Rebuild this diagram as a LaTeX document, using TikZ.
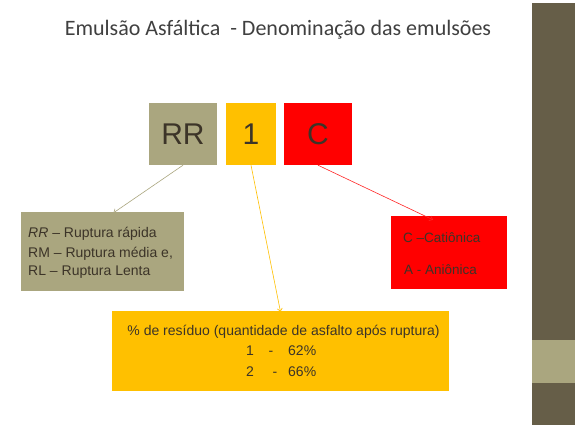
\documentclass[tikz,border=0pt]{standalone}
\usepackage{fontspec}
\setmainfont{Liberation Sans}
\newfontfamily\titlefont{Carlito}
\usetikzlibrary{arrows.meta}
\definecolor{tan}{RGB}{170,166,127}
\definecolor{darkbar}{RGB}{102,94,72}
\definecolor{gold}{RGB}{255,192,0}
\definecolor{txt}{RGB}{60,52,40}
\definecolor{edgegray}{RGB}{222,222,222}
\pgfdeclareradialshading{slidebg}{\pgfpoint{0bp}{0bp}}{color(0bp)=(white); color(36bp)=(white); color(72bp)=(edgegray)}
\tikzset{
  box/.style={draw=none, inner sep=0pt, anchor=center},
  lbl/.style={inner sep=0pt, text=txt, font=\fontsize{14}{16}\selectfont},
  conn/.style={line width=0.6pt, -{Straight Barb[length=3pt,width=5pt]}},
}
\begin{document}
\begin{tikzpicture}[x=1pt,y=-1pt]
\useasboundingbox (0,0) rectangle (577,426);
\fill[white] (0,0) rectangle (577,426);
% slide background
\shade[shading=slidebg] (10,3) rectangle (532,425);
% side bars
\fill[darkbar] (532,3) rectangle (575,425);
\fill[tan] (532,340) rectangle (575,383);
% title
\node[inner sep=0pt, text=black!75] (title) at (278,30) {\titlefont\fontsize{22}{26}\selectfont Emulsão Asfáltica\ \ - Denominação das emulsões};
% top boxes
\node[box, fill=tan, minimum width=68pt, minimum height=62pt, text=txt, font=\fontsize{30}{34}\selectfont] (rr) at (183,134) {RR};
\node[box, fill=gold, minimum width=50pt, minimum height=62pt, text=txt, font=\fontsize{30}{34}\selectfont] (one) at (251,134) {1};
\node[box, fill=red, minimum width=68pt, minimum height=62pt, text=txt, font=\fontsize{30}{34}\selectfont] (c) at (318,134) {C};
% lower boxes
\node[box, fill=tan, minimum width=163pt, minimum height=79pt] (lbox) at (102.5,251.5) {};
\node[box, fill=red, minimum width=116pt, minimum height=73pt] (cbox) at (449,252.5) {};
\node[box, fill=gold, minimum width=337pt, minimum height=80pt] (bbox) at (280.5,351) {};
% texts
\node[lbl, anchor=base west] (t1) at (28,237) {\textit{RR} – Ruptura rápida};
\node[lbl, anchor=base west] (t2) at (28,257) {RM – Ruptura média e,};
\node[lbl, anchor=base west] (t3) at (28,275) {RL – Ruptura Lenta};
\node[lbl, anchor=base west, font=\fontsize{13.5}{16}\selectfont] (t4) at (403,242) {C –Catiônica};
\node[lbl, anchor=base west, font=\fontsize{13.5}{16}\selectfont] (t5) at (404,274) {A - Aniônica};
\node[lbl, anchor=base] (t6) at (283.5,335) {\% de resíduo (quantidade de asfalto após ruptura)};
\node[lbl, anchor=base west] (t7a) at (246,355) {1};
\node[lbl, anchor=base] (t7b) at (271,355) {-};
\node[lbl, anchor=base west] (t7c) at (288,355) {62\%};
\node[lbl, anchor=base west] (t8a) at (246,376) {2};
\node[lbl, anchor=base] (t8b) at (275,376) {-};
\node[lbl, anchor=base west] (t8c) at (288,376) {66\%};
% connectors
\draw[conn, draw=tan] (rr.south) -- ([xshift=11pt,yshift=-1pt]lbox.north);
\draw[conn, draw=gold] (one.south) -- ([yshift=-1pt]bbox.north);
\draw[conn, draw=red!85] (c.south) -- ([xshift=-16pt,yshift=-4pt]cbox.north);
\end{tikzpicture}
\end{document}
